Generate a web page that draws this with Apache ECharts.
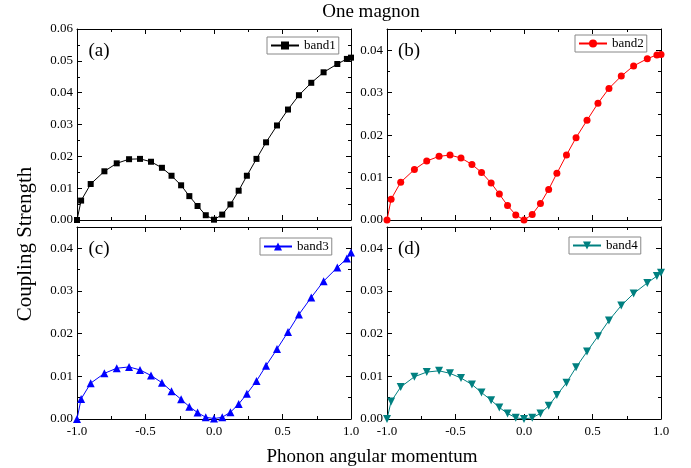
<!DOCTYPE html>
<html>
<head>
<meta charset="utf-8">
<script src="https://cdn.jsdelivr.net/npm/echarts@6/dist/echarts.min.js"></script>
<style>
    html, body { margin: 0; padding: 0; background: #fff; }
    #chart { width: 691px; height: 468px; }
</style>
</head>
<body>
<div id="chart"></div>
<script>
    // phonon angular momentum sampling (shared by all bands)
    const momentum = [-1.0, -0.97, -0.9, -0.8, -0.71, -0.62, -0.54, -0.46, -0.38, -0.31, -0.24, -0.18, -0.12, -0.06, 0,
        0.06, 0.12, 0.18, 0.24, 0.31, 0.38, 0.46, 0.54, 0.62, 0.71, 0.8, 0.9, 0.97, 1.0];

    const band1 = [0, 0.0061, 0.0113, 0.0153, 0.0178, 0.0191, 0.0192, 0.0183, 0.0164, 0.0139, 0.0109, 0.0075, 0.0044, 0.0015, 0.0001,
        0.0017, 0.0049, 0.0092, 0.0139, 0.0192, 0.0244, 0.0297, 0.0347, 0.0392, 0.0431, 0.0464, 0.0490, 0.0506, 0.0510];
    const band2 = [0, 0.0049, 0.0089, 0.0119, 0.0139, 0.0150, 0.0153, 0.0146, 0.0131, 0.0112, 0.0087, 0.0061, 0.0034, 0.0012, 0,
        0.0013, 0.0039, 0.0072, 0.0110, 0.0153, 0.0194, 0.0235, 0.0275, 0.0310, 0.0339, 0.0363, 0.0380, 0.0389, 0.0390];
    const band3 = [0, 0.0047, 0.0084, 0.0107, 0.0119, 0.0122, 0.0115, 0.0102, 0.0085, 0.0065, 0.0046, 0.0029, 0.0015, 0.0004, 0.0001,
        0.0004, 0.0016, 0.0035, 0.0059, 0.0089, 0.0125, 0.0164, 0.0204, 0.0245, 0.0285, 0.0323, 0.0355, 0.0376, 0.0390];
    const band4 = [0, 0.0041, 0.0075, 0.0099, 0.0110, 0.0113, 0.0107, 0.0096, 0.0081, 0.0062, 0.0044, 0.0027, 0.0013, 0.0003, 0,
        0.0003, 0.0013, 0.0031, 0.0056, 0.0085, 0.0121, 0.0158, 0.0194, 0.0231, 0.0266, 0.0294, 0.0319, 0.0335, 0.0343];

    const xTicks = { min: -1, max: 1, step: 0.5 };
    const yMax = [0.06, 0.045, 0.045, 0.045];

    const FONT = '"Liberation Serif", "Times New Roman", serif';

    // panel layout / style
    const panels = [
        { name: 'band1', data: band1, color: '#000000', symbol: 'rect', size: 6, rotate: 0, tag: '(a)',
            grid: { left: 77, top: 29, width: 274, height: 191 }, legend: { left: 267, top: 37 }, xLabels: false },
        { name: 'band2', data: band2, color: '#ff0000', symbol: 'circle', size: 7, rotate: 0, tag: '(b)',
            grid: { left: 387, top: 29, width: 274, height: 191 }, legend: { left: 575, top: 35 }, xLabels: false },
        { name: 'band3', data: band3, color: '#0000ff', symbol: 'triangle', size: 8, rotate: 0, tag: '(c)',
            grid: { left: 77, top: 227, width: 274, height: 192 }, legend: { left: 260, top: 238 }, xLabels: true },
        { name: 'band4', data: band4, color: '#008080', symbol: 'triangle', size: 8, rotate: 180, tag: '(d)',
            grid: { left: 387, top: 227, width: 274, height: 192 }, legend: { left: 569, top: 237 }, xLabels: true }
    ];

    const chart = echarts.init(document.getElementById('chart'));

    const tickStyle = { color: '#000', width: 1 };

    function xAxis(i, bottom) {
        return {
            type: 'value',
            gridIndex: i,
            position: bottom ? 'bottom' : 'top',
            min: xTicks.min,
            max: xTicks.max,
            interval: xTicks.step,
            axisLine: { onZero: false, lineStyle: { color: '#000', width: 1 } },
            axisTick: { inside: true, length: 5, lineStyle: tickStyle },
            minorTick: { show: true, splitNumber: 2, length: 3, lineStyle: tickStyle },
            splitLine: { show: false },
            axisLabel: {
                show: bottom && panels[i].xLabels,
                color: '#000',
                fontFamily: FONT,
                fontSize: 13,
                margin: 6,
                formatter: v => v.toFixed(1)
            }
        }
    }

    function yAxis(i, left) {
        return {
            type: 'value',
            gridIndex: i,
            position: left ? 'left' : 'right',
            min: 0,
            max: yMax[i],
            interval: 0.01,
            axisLine: { show: true, onZero: false, lineStyle: { color: '#000', width: 1 } },
            axisTick: { show: true, inside: true, length: 5, lineStyle: tickStyle },
            minorTick: { show: true, splitNumber: 2, length: 3, lineStyle: tickStyle },
            splitLine: { show: false },
            axisLabel: {
                show: left,
                showMaxLabel: yMax[i] === 0.06,
                color: '#000',
                fontFamily: FONT,
                fontSize: 13,
                margin: 4,
                formatter: v => v.toFixed(2)
            }
        }
    }

    const texts = [
        { text: 'One magnon', x: 371, y: 12, size: 19, rotation: 0 },
        { text: 'Coupling Strength', x: 25, y: 244, size: 21, rotation: Math.PI / 2 },
        { text: 'Phonon angular momentum', x: 372, y: 457, size: 19, rotation: 0 }
    ];
    panels.forEach(p => {
        texts.push({ text: p.tag, x: p.grid.left + 22, y: p.grid.top + 22, size: 19, rotation: 0 });
    });

    const option = {
        backgroundColor: '#fff',
        animation: false,
        grid: panels.map(p => p.grid),
        xAxis: panels.map((p, i) => xAxis(i, true)).concat(panels.map((p, i) => xAxis(i, false))),
        yAxis: panels.map((p, i) => yAxis(i, true)).concat(panels.map((p, i) => yAxis(i, false))),
        legend: panels.map(p => ({
            data: [p.name],
            left: p.legend.left,
            top: p.legend.top,
            padding: [2, 3],
            borderColor: '#888',
            borderWidth: 1,
            borderRadius: 0,
            itemWidth: 28,
            itemHeight: 10,
            itemGap: 0,
            selectedMode: false,
            textStyle: { color: '#000', fontFamily: FONT, fontSize: 13 }
        })),
        graphic: texts.map(t => ({
            type: 'text',
            x: t.x,
            y: t.y,
            rotation: t.rotation,
            style: {
                text: t.text,
                fill: '#000',
                font: t.size + 'px ' + FONT,
                textAlign: 'center',
                textVerticalAlign: 'middle'
            }
        })),
        series: panels.map((p, i) => ({
            name: p.name,
            type: 'line',
            xAxisIndex: i,
            yAxisIndex: i,
            data: momentum.map((k, j) => [k, p.data[j]]),
            symbol: p.symbol,
            symbolSize: p.size,
            symbolRotate: p.rotate,
            showSymbol: true,
            itemStyle: { color: p.color },
            lineStyle: { color: p.color, width: 1 }
        }))
    };

    option && chart.setOption(option);
</script>
</body>
</html>
